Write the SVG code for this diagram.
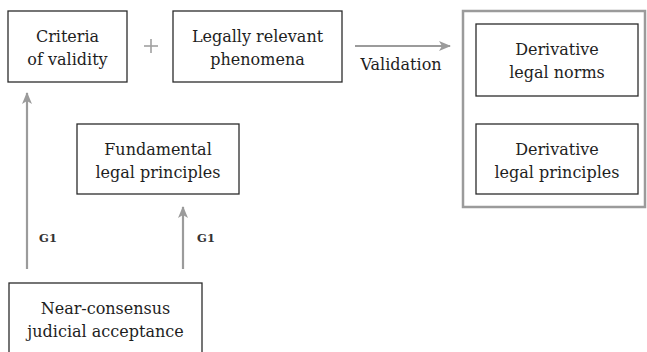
<svg xmlns="http://www.w3.org/2000/svg" width="647" height="352" viewBox="0 0 647 352">
  <style>
    .box { fill: #ffffff; stroke: #2b2b2b; stroke-width: 1.3; }
    .frame { fill: none; stroke: #9b9b9b; stroke-width: 2.5; }
    .lbl { font-family: "DejaVu Serif", "Liberation Serif", serif; font-size: 16px; fill: #1e1e1e; text-anchor: middle; }
    .tag { font-family: "DejaVu Serif", "Liberation Serif", serif; font-size: 11.5px; font-weight: bold; fill: #333; text-anchor: middle; }
    .conn { stroke: #9b9b9b; stroke-width: 2.2; fill: none; }
    .plus { stroke: #a0a0a0; stroke-width: 1.6; }
  </style>
  <defs>
    <marker id="head" viewBox="0 0 12 10" refX="11" refY="5" markerWidth="12" markerHeight="10" markerUnits="userSpaceOnUse" orient="auto">
      <path d="M0,0 L12,5 L0,10 L3,5 Z" fill="#9b9b9b"/>
    </marker>
  </defs>

  <!-- outer frame around derivative outputs -->
  <g id="derived-frame">
    <rect class="frame" x="463" y="11" width="182" height="196"/>
  </g>

  <g id="criteria">
    <rect class="box" x="8" y="11" width="119" height="71"/>
    <text class="lbl" x="67.5" y="42">Criteria</text>
    <text class="lbl" x="67.5" y="65">of validity</text>
  </g>

  <g id="plus">
    <line class="plus" x1="144" y1="46" x2="158" y2="46"/>
    <line class="plus" x1="151" y1="39" x2="151" y2="53"/>
  </g>

  <g id="phenomena">
    <rect class="box" x="173" y="11" width="169" height="71"/>
    <text class="lbl" x="257.5" y="42">Legally relevant</text>
    <text class="lbl" x="257.5" y="65">phenomena</text>
  </g>

  <g id="norms">
    <rect class="box" x="476" y="24" width="162" height="72"/>
    <text class="lbl" x="557" y="55">Derivative</text>
    <text class="lbl" x="557" y="78">legal norms</text>
  </g>

  <g id="derived-principles">
    <rect class="box" x="476" y="124" width="162" height="70"/>
    <text class="lbl" x="557" y="155">Derivative</text>
    <text class="lbl" x="557" y="178">legal principles</text>
  </g>

  <g id="fundamental">
    <rect class="box" x="77" y="124" width="162" height="70"/>
    <text class="lbl" x="158" y="155">Fundamental</text>
    <text class="lbl" x="158" y="178">legal principles</text>
  </g>

  <g id="consensus">
    <rect class="box" x="9" y="283" width="193" height="80"/>
    <text class="lbl" x="105.5" y="314">Near-consensus</text>
    <text class="lbl" x="105.5" y="337">judicial acceptance</text>
  </g>

  <g id="connectors">
    <line class="conn" x1="355" y1="46" x2="450" y2="46" marker-end="url(#head)"/>
    <text class="lbl" x="401" y="70">Validation</text>
    <line class="conn" x1="27" y1="269" x2="27" y2="93" marker-end="url(#head)"/>
    <text class="tag" x="48" y="242">G1</text>
    <line class="conn" x1="183" y1="269" x2="183" y2="207" marker-end="url(#head)"/>
    <text class="tag" x="206" y="242">G1</text>
  </g>
</svg>
